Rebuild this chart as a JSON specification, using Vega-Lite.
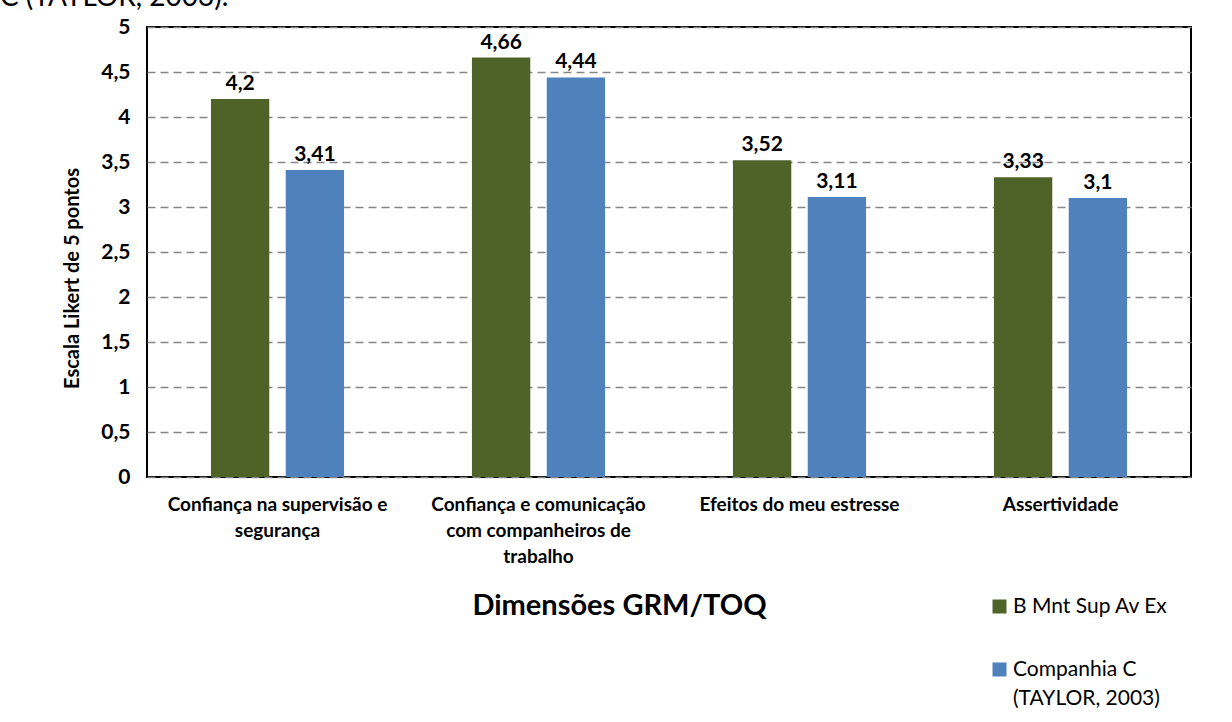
{
  "$schema": "https://vega.github.io/schema/vega-lite/v6.json",
  "width": 1044,
  "height": 450,
  "autosize": {"type": "none"},
  "padding": {"left": 147, "top": 27, "right": 41, "bottom": 245},
  "background": "white",
  "title": {
    "text": "C (TAYLOR, 2003).",
    "anchor": "start",
    "frame": "group",
    "dx": -147,
    "dy": 19,
    "offset": 1,
    "baseline": "alphabetic",
    "font": "Lato",
    "fontSize": 28,
    "fontWeight": "normal",
    "color": "#000000"
  },
  "data": {
    "values": [
      {"dim": "Confiança na supervisão e segurança", "serie": "B Mnt Sup Av Ex", "valor": 4.2},
      {"dim": "Confiança na supervisão e segurança", "serie": "Companhia C (TAYLOR, 2003)", "valor": 3.41},
      {"dim": "Confiança e comunicação com companheiros de trabalho", "serie": "B Mnt Sup Av Ex", "valor": 4.66},
      {"dim": "Confiança e comunicação com companheiros de trabalho", "serie": "Companhia C (TAYLOR, 2003)", "valor": 4.44},
      {"dim": "Efeitos do meu estresse", "serie": "B Mnt Sup Av Ex", "valor": 3.52},
      {"dim": "Efeitos do meu estresse", "serie": "Companhia C (TAYLOR, 2003)", "valor": 3.11},
      {"dim": "Assertividade", "serie": "B Mnt Sup Av Ex", "valor": 3.33},
      {"dim": "Assertividade", "serie": "Companhia C (TAYLOR, 2003)", "valor": 3.1}
    ]
  },
  "encoding": {
    "x": {
      "field": "dim",
      "type": "nominal",
      "sort": null,
      "scale": {"paddingInner": 0.49, "paddingOuter": 0.245},
      "axis": {
        "title": "Dimensões GRM/TOQ",
        "titleFont": "Lato",
        "titleFontSize": 29,
        "titleFontWeight": "bold",
        "titleColor": "#000000",
        "titleX": 472,
        "titleY": 128,
        "titleBaseline": "middle",
        "titleAlign": "center",
        "labelAngle": 0,
        "labelFont": "Lato",
        "labelFontSize": 19,
        "labelFontWeight": "bold",
        "labelColor": "#000000",
        "labelBaseline": "top",
        "labelPadding": 18,
        "labelLineHeight": 26,
        "labelLimit": 0,
        "ticks": false,
        "tickSize": 0,
        "domain": false,
        "labelExpr": "datum.value == 'Confiança na supervisão e segurança' ? ['Confiança na supervisão e', 'segurança'] : datum.value == 'Confiança e comunicação com companheiros de trabalho' ? ['Confiança e comunicação', 'com companheiros de', 'trabalho'] : datum.value"
      }
    },
    "xOffset": {"field": "serie", "type": "nominal", "scale": {"paddingInner": 0.22}},
    "y": {
      "field": "valor",
      "type": "quantitative",
      "scale": {"domain": [0, 5], "nice": false},
      "axis": {
        "title": "Escala Likert de 5 pontos",
        "titleFont": "Lato",
        "titleFontSize": 20,
        "titleFontWeight": "bold",
        "titleColor": "#000000",
        "titleX": -75,
        "titleY": 251,
        "titleAngle": -90,
        "titleBaseline": "middle",
        "titleAlign": "center",
        "values": [0, 0.5, 1, 1.5, 2, 2.5, 3, 3.5, 4, 4.5, 5],
        "format": "~g",
        "labelFont": "Lato",
        "labelFontSize": 21,
        "labelFontWeight": "bold",
        "labelColor": "#000000",
        "labelPadding": 17,
        "ticks": false,
        "tickSize": 0,
        "domain": false,
        "grid": true,
        "gridColor": "#868686",
        "gridWidth": 1.6,
        "gridDash": [8, 5]
      }
    }
  },
  "layer": [
    {
      "mark": {"type": "bar"},
      "encoding": {
        "color": {
          "field": "serie",
          "type": "nominal",
          "scale": {"domain": ["B Mnt Sup Av Ex", "Companhia C (TAYLOR, 2003)"], "range": ["#4F6228", "#4F81BD"]},
          "legend": {
            "title": null,
            "orient": "none",
            "legendX": 842,
            "legendY": 569,
            "direction": "vertical",
            "symbolType": "square",
            "symbolSize": 196,
            "symbolStrokeWidth": 0,
            "labelFont": "Lato",
            "labelFontSize": 21,
            "labelColor": "#000000",
            "labelOffset": 3,
            "labelLimit": 0,
            "rowPadding": 41,
            "padding": 0,
            "labelExpr": "datum.label == 'Companhia C (TAYLOR, 2003)' ? ['Companhia C', '(TAYLOR, 2003)'] : datum.label"
          }
        }
      }
    },
    {
      "mark": {"type": "text", "baseline": "alphabetic", "dy": -9, "font": "Lato", "fontSize": 21, "fontWeight": "bold", "color": "#000000"},
      "encoding": {
        "text": {"field": "valor", "type": "quantitative", "format": "~g"}
      }
    }
  ],
  "config": {
    "locale": {"number": {"decimal": ",", "thousands": ".", "grouping": [3], "currency": ["R$", ""]}},
    "view": {"stroke": "#000000", "strokeWidth": 2},
    "style": {"guide-label": {"lineHeight": 29}}
  }
}
